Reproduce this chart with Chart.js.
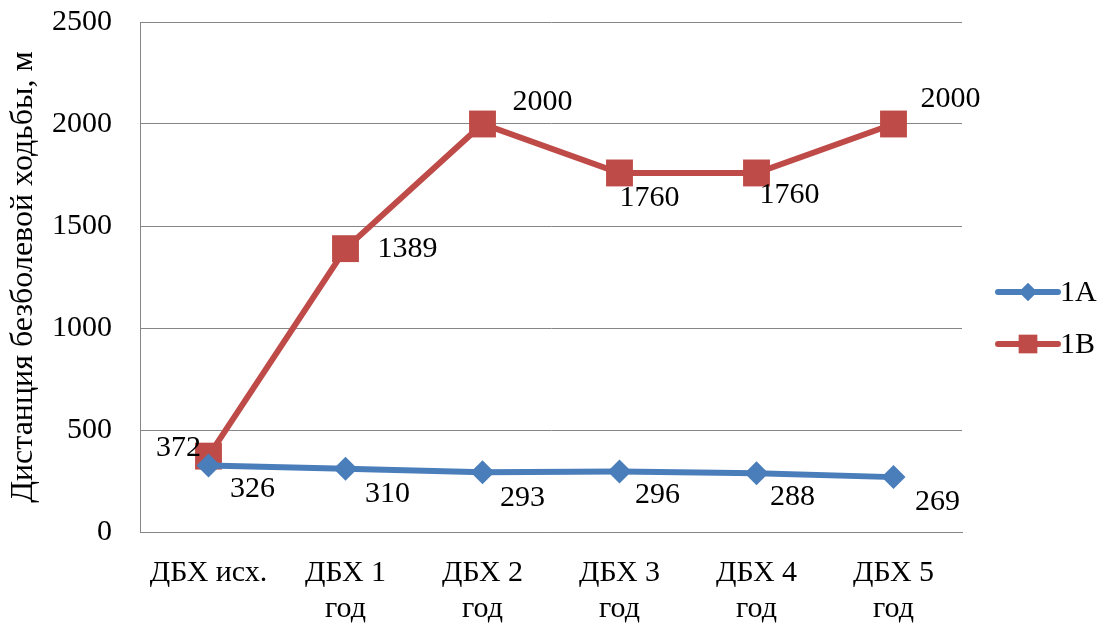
<!DOCTYPE html>
<html>
<head>
<meta charset="utf-8">
<script src="https://cdn.jsdelivr.net/npm/chart.js@4.4.1/dist/chart.umd.min.js"></script>
<style>
  html, body { margin: 0; padding: 0; background: #fff; }
  #wrap { width: 1100px; height: 626px; position: relative; }
</style>
</head>
<body>
<div id="wrap"><canvas id="c"></canvas></div>
<script>
// Категории по оси X (ДБХ — дистанция безболевой ходьбы)
const categories = [
  ['ДБХ исх.'],
  ['ДБХ 1', 'год'],
  ['ДБХ 2', 'год'],
  ['ДБХ 3', 'год'],
  ['ДБХ 4', 'год'],
  ['ДБХ 5', 'год']
];
// Значения групп, м
const series1A = [326, 310, 293, 296, 288, 269];
const series1B = [372, 1389, 2000, 1760, 1760, 2000];
const seriesNames = ['1A', '1B'];
// Деления оси Y
const yMin = 0, yMax = 2500, yStep = 500;

const FONT = '"Liberation Serif", "Times New Roman", serif';
const BLUE = '#4A7EBB';
const RED = '#BE4B48';
const TXT = 30;

// Смещения подписей значений относительно точек
const labelOffsets = [
  [[44, 24], [42, 25], [40, 26], [38, 24], [36, 24], [44, 25]],
  [[-30, -8], [62, 0], [60, -22], [30, 25], [33, 22], [57, -25]]
];

const valueLabels = {
  id: 'valueLabels',
  afterDatasetsDraw(chart) {
    const ctx = chart.ctx;
    ctx.save();
    ctx.font = TXT + 'px ' + FONT;
    ctx.fillStyle = '#000';
    ctx.textAlign = 'center';
    ctx.textBaseline = 'middle';
    chart.data.datasets.forEach((ds, di) => {
      const meta = chart.getDatasetMeta(di);
      meta.data.forEach((pt, i) => {
        const off = labelOffsets[di][i];
        ctx.fillText(String(ds.data[i]), pt.x + off[0], pt.y + off[1]);
      });
    });
    ctx.restore();
  }
};

// Легенда справа: линия с маркером и название ряда
const sideLegend = {
  id: 'sideLegend',
  afterDraw(chart) {
    const ctx = chart.ctx;
    const x0 = 998, x1 = 1058;
    const rows = [292, 344];
    chart.data.datasets.forEach((ds, di) => {
      const y = rows[di];
      ctx.save();
      ctx.strokeStyle = ds.borderColor;
      ctx.lineWidth = 6;
      ctx.lineCap = 'round';
      ctx.beginPath();
      ctx.moveTo(x0, y);
      ctx.lineTo(x1, y);
      ctx.stroke();
      ctx.fillStyle = ds.borderColor;
      Chart.helpers.drawPoint(ctx, {
        pointStyle: ds.pointStyle,
        radius: di === 0 ? 9 : 13,
        borderWidth: 0
      }, (x0 + x1) / 2, y);
      ctx.fill();
      ctx.fillStyle = '#000';
      ctx.font = TXT + 'px ' + FONT;
      ctx.textAlign = 'left';
      ctx.textBaseline = 'middle';
      ctx.fillText(ds.label, x1 + 2, y + 1);
      ctx.restore();
    });
  }
};

new Chart(document.getElementById('c'), {
  type: 'line',
  data: {
    labels: categories,
    datasets: [
      {
        label: seriesNames[0],
        data: series1A,
        borderColor: BLUE,
        backgroundColor: BLUE,
        borderWidth: 6,
        pointStyle: 'rectRot',
        pointRadius: 12,
        pointHoverRadius: 12,
        pointBorderWidth: 0,
        tension: 0
      },
      {
        label: seriesNames[1],
        data: series1B,
        borderColor: RED,
        backgroundColor: RED,
        borderWidth: 6,
        pointStyle: 'rect',
        pointRadius: 19,
        pointHoverRadius: 19,
        pointBorderWidth: 0,
        tension: 0
      }
    ]
  },
  options: {
    responsive: true,
    maintainAspectRatio: false,
    animation: false,
    events: [],
    layout: { padding: { top: 22, right: 138, left: 0, bottom: 0 } },
    plugins: {
      legend: { display: false },
      tooltip: { enabled: false }
    },
    scales: {
      x: {
        offset: true,
        grid: { display: false, drawTicks: false },
        border: { display: true, color: '#868686', width: 1 },
        ticks: {
          color: '#000',
          font: { family: FONT, size: TXT, lineHeight: 1.17 },
          padding: 24,
          maxRotation: 0,
          autoSkip: false
        },
        afterFit(s) {
          s.height = 94;
          s.paddingLeft = 0;
          s.paddingRight = 0;
        }
      },
      y: {
        min: yMin,
        max: yMax,
        ticks: {
          stepSize: yStep,
          color: '#000',
          font: { family: FONT, size: TXT },
          padding: 28,
          callback: v => String(v)
        },
        grid: { color: '#868686', lineWidth: 1, drawTicks: false },
        border: { display: true, color: '#868686', width: 1 },
        title: {
          display: true,
          text: 'Дистанция безболевой ходьбы, м',
          color: '#000',
          font: { family: FONT, size: 32 },
          padding: { top: 4, bottom: 0 }
        },
        afterFit(s) {
          s.width = 140;
          s.paddingTop = 0;
          s.paddingBottom = 0;
        }
      }
    }
  },
  plugins: [valueLabels, sideLegend]
});
</script>
</body>
</html>
